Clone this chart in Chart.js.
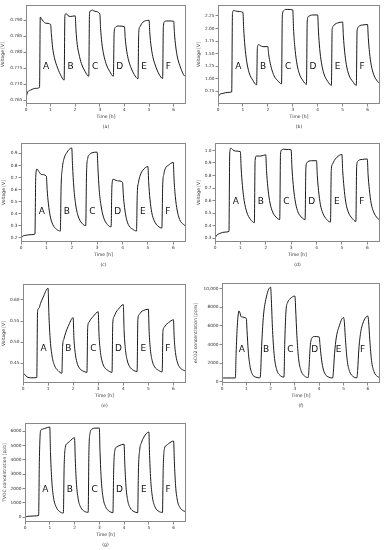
<!DOCTYPE html>
<html>
<head>
<meta charset="utf-8">
<script src="https://cdn.jsdelivr.net/npm/chart.js@4.4.0/dist/chart.umd.min.js"></script>
<style>
  body { margin: 0; background: #fff; width: 385px; height: 550px; position: relative; overflow: hidden; }
  canvas { position: absolute; }
</style>
</head>
<body>
<script>
// shared time axis [h]
const timeH = [0, 0.05, 0.2, 0.4,
  0.55, 0.58, 0.63, 0.70, 0.80, 1.00, 1.03, 1.08, 1.15, 1.25, 1.40,
  1.55, 1.58, 1.63, 1.70, 1.80, 2.00, 2.03, 2.08, 2.15, 2.25, 2.40,
  2.55, 2.58, 2.63, 2.70, 2.80, 3.00, 3.03, 3.08, 3.15, 3.25, 3.40,
  3.55, 3.58, 3.63, 3.70, 3.80, 4.00, 4.03, 4.08, 4.15, 4.25, 4.40,
  4.55, 4.58, 4.63, 4.70, 4.80, 5.00, 5.03, 5.08, 5.15, 5.25, 5.40,
  5.55, 5.58, 5.63, 5.70, 5.80, 6.00, 6.03, 6.08, 6.15, 6.25, 6.40,
  6.50];

const voltA = [0.7655, 0.7672, 0.7682, 0.7687,
  0.7690, 0.7910, 0.7905, 0.7897, 0.7891, 0.7887, 0.7858, 0.7816, 0.7784, 0.7758, 0.7730,
  0.7713, 0.7915, 0.7921, 0.7915, 0.7912, 0.7914, 0.7870, 0.7825, 0.7795, 0.7765, 0.7740,
  0.7725, 0.7922, 0.7930, 0.7932, 0.7928, 0.7920, 0.7875, 0.7830, 0.7795, 0.7765, 0.7740,
  0.7725, 0.7860, 0.7878, 0.7882, 0.7882, 0.7880, 0.7845, 0.7810, 0.7780, 0.7755, 0.7730,
  0.7717, 0.7862, 0.7880, 0.7890, 0.7897, 0.7900, 0.7860, 0.7820, 0.7787, 0.7760, 0.7732,
  0.7718, 0.7880, 0.7896, 0.7898, 0.7898, 0.7897, 0.7860, 0.7820, 0.7785, 0.7758, 0.7730,
  0.7722];

const voltB = [0.63, 0.68, 0.71, 0.73,
  0.74, 2.30, 2.36, 2.35, 2.34, 2.32, 2.00, 1.65, 1.35, 1.12, 0.97,
  0.88, 1.62, 1.68, 1.66, 1.64, 1.64, 1.50, 1.35, 1.20, 1.06, 0.96,
  0.90, 2.25, 2.35, 2.38, 2.38, 2.37, 2.00, 1.65, 1.35, 1.12, 0.97,
  0.89, 2.15, 2.24, 2.26, 2.27, 2.27, 1.95, 1.60, 1.32, 1.10, 0.95,
  0.87, 1.98, 2.05, 2.09, 2.11, 2.13, 1.85, 1.55, 1.28, 1.08, 0.95,
  0.87, 1.95, 2.03, 2.06, 2.07, 2.08, 1.82, 1.52, 1.27, 1.08, 0.95,
  0.90];

const voltC = [0.19, 0.21, 0.22, 0.225,
  0.23, 0.70, 0.77, 0.75, 0.725, 0.71, 0.60, 0.48, 0.38, 0.31, 0.27,
  0.255, 0.62, 0.78, 0.86, 0.905, 0.945, 0.80, 0.62, 0.48, 0.38, 0.32,
  0.30, 0.72, 0.86, 0.89, 0.905, 0.91, 0.78, 0.60, 0.47, 0.37, 0.31,
  0.29, 0.62, 0.685, 0.68, 0.672, 0.66, 0.56, 0.45, 0.36, 0.30, 0.27,
  0.255, 0.56, 0.66, 0.72, 0.76, 0.79, 0.66, 0.52, 0.41, 0.34, 0.295,
  0.28, 0.62, 0.73, 0.78, 0.80, 0.825, 0.68, 0.54, 0.43, 0.35, 0.31,
  0.295];

const voltD = [0.30, 0.32, 0.34, 0.35,
  0.355, 0.98, 1.018, 1.005, 0.995, 0.99, 0.86, 0.72, 0.60, 0.51, 0.45,
  0.425, 0.92, 0.955, 0.955, 0.955, 0.965, 0.84, 0.71, 0.60, 0.52, 0.47,
  0.45, 0.97, 1.005, 1.01, 1.008, 1.005, 0.87, 0.73, 0.61, 0.52, 0.47,
  0.45, 0.86, 0.905, 0.915, 0.918, 0.918, 0.80, 0.68, 0.57, 0.50, 0.45,
  0.43, 0.84, 0.89, 0.92, 0.945, 0.968, 0.84, 0.71, 0.59, 0.51, 0.46,
  0.435, 0.87, 0.915, 0.925, 0.928, 0.932, 0.81, 0.69, 0.58, 0.51, 0.46,
  0.445];

const voltE = [0.427, 0.424, 0.416, 0.415,
  0.416, 0.572, 0.580, 0.592, 0.606, 0.628, 0.57, 0.51, 0.47, 0.445, 0.432,
  0.426, 0.490, 0.507, 0.522, 0.537, 0.558, 0.51, 0.475, 0.452, 0.438, 0.431,
  0.428, 0.535, 0.547, 0.554, 0.561, 0.572, 0.52, 0.48, 0.455, 0.44, 0.432,
  0.428, 0.545, 0.560, 0.570, 0.578, 0.589, 0.53, 0.485, 0.458, 0.442, 0.433,
  0.430, 0.553, 0.565, 0.571, 0.575, 0.578, 0.525, 0.482, 0.456, 0.441, 0.433,
  0.429, 0.525, 0.535, 0.541, 0.546, 0.553, 0.51, 0.475, 0.453, 0.44, 0.433,
  0.431];

const eco2Ppm = [400, 400, 400, 400,
  400, 3000, 6000, 7600, 6950, 6800, 5500, 3300, 1700, 800, 480,
  420, 600, 3800, 6900, 8800, 10150, 8800, 5500, 2800, 1300, 650,
  500, 4000, 7500, 8500, 8900, 9200, 7800, 5000, 2500, 1200, 600,
  450, 1500, 3800, 4700, 4850, 4800, 4000, 2700, 1500, 800, 480,
  400, 1000, 3000, 4700, 5800, 6900, 6500, 4500, 2300, 1100, 550,
  420, 1200, 3500, 5200, 6300, 7050, 6500, 4500, 2300, 1100, 550,
  450];

const tvocPpb = [0, 50, 80, 100,
  120, 4000, 6050, 6150, 6200, 6300, 4500, 2600, 1400, 750, 400,
  300, 3500, 4900, 5150, 5300, 5550, 4000, 2300, 1250, 700, 420,
  350, 4500, 5900, 6150, 6220, 6230, 4500, 2600, 1400, 750, 430,
  330, 3300, 4700, 4900, 5000, 5100, 3700, 2100, 1150, 650, 400,
  330, 3300, 4700, 5200, 5600, 5950, 4300, 2500, 1350, 720, 420,
  340, 3400, 4800, 5000, 5150, 5320, 3900, 2200, 1200, 700, 450,
  400];

const xTicks = [0, 1, 2, 3, 4, 5, 6];
const ticksA = [0.765, 0.770, 0.775, 0.780, 0.785, 0.790];
const labelsA = ['0.765', '0.770', '0.775', '0.780', '0.785', '0.790'];
const ticksB = [0.75, 1.00, 1.25, 1.50, 1.75, 2.00, 2.25];
const labelsB = ['0.75', '1.00', '1.25', '1.50', '1.75', '2.00', '2.25'];
const ticksC = [0.2, 0.3, 0.4, 0.5, 0.6, 0.7, 0.8, 0.9];
const labelsC = ['0.2', '0.3', '0.4', '0.5', '0.6', '0.7', '0.8', '0.9'];
const ticksD = [0.3, 0.4, 0.5, 0.6, 0.7, 0.8, 0.9, 1.0];
const labelsD = ['0.3', '0.4', '0.5', '0.6', '0.7', '0.8', '0.9', '1.0'];
const ticksE = [0.45, 0.50, 0.55, 0.60];
const labelsE = ['0.45', '0.50', '0.55', '0.60'];
const ticksF = [0, 2000, 4000, 6000, 8000, 10000];
const labelsF = ['0', '2000', '4000', '6000', '8000', '10,000'];
const ticksG = [0, 1000, 2000, 3000, 4000, 5000, 6000];
const labelsG = ['0', '1000', '2000', '3000', '4000', '5000', '6000'];

const gasNames = ['A', 'B', 'C', 'D', 'E', 'F'];
const gasLabelTimes = [0.82, 1.81, 2.81, 3.81, 4.8, 5.78];

const FONT = "'DejaVu Sans', sans-serif";

// plot box in page px: [left, top, right, bottom], yw = room for y axis
const panels = [
  { cap: '(a)', values: voltA, yRange: [0.7638, 0.7948], ticks: ticksA, labels: labelsA, title: 'Voltage [V]', letterY: 0.7756, box: [26, 5, 186, 104], yw: 26 },
  { cap: '(b)', values: voltB, yRange: [0.499, 2.468], ticks: ticksB, labels: labelsB, title: 'Voltage [V]', letterY: 1.24, box: [218, 5, 380, 104], yw: 22 },
  { cap: '(c)', values: voltC, yRange: [0.164, 0.986], ticks: ticksC, labels: labelsC, title: 'Voltage [V]', letterY: 0.415, box: [21, 143, 186, 242], yw: 20 },
  { cap: '(d)', values: voltD, yRange: [0.271, 1.059], ticks: ticksD, labels: labelsD, title: 'Voltage [V]', letterY: 0.595, box: [215, 143, 380, 242], yw: 19 },
  { cap: '(e)', values: voltE, yRange: [0.4027, 0.638], ticks: ticksE, labels: labelsE, title: 'Voltage [V]', letterY: 0.484, box: [23, 284, 186, 383], yw: 22 },
  { cap: '(f)', values: eco2Ppm, yRange: [-140, 10600], ticks: ticksF, labels: labelsF, title: 'eCO2 concentration [ppm]', letterY: 3400, box: [222, 283, 380, 383], yw: 29 },
  { cap: '(g)', values: tvocPpb, yRange: [-326, 6581], ticks: ticksG, labels: labelsG, title: 'TVOC concentration [ppb]', letterY: 1930, box: [25, 423, 186, 522], yw: 23 }
];

const panelDeco = {
  id: 'panelDeco',
  afterDraw(chart, args, opts) {
    const { ctx, chartArea: a, scales: { x, y } } = chart;
    ctx.save();
    ctx.strokeStyle = '#888';
    ctx.lineWidth = 1;
    ctx.strokeRect(Math.round(a.left) + 0.5, Math.round(a.top) + 0.5,
      Math.round(a.right) - Math.round(a.left) - 1, Math.round(a.bottom) - Math.round(a.top) - 1);

    ctx.fillStyle = '#111';
    ctx.font = '9px ' + FONT;
    ctx.textAlign = 'center';
    ctx.textBaseline = 'middle';
    gasNames.forEach((name, i) => {
      ctx.fillText(name, x.getPixelForValue(gasLabelTimes[i]), y.getPixelForValue(opts.letterY));
    });

    ctx.fillStyle = '#333';
    ctx.font = '4.5px ' + FONT;
    ctx.fillText(opts.caption, (a.left + a.right) / 2, a.bottom + 23);
    ctx.restore();
  }
};

const PAD_TOP = 4, PAD_RIGHT = 6, X_AXIS_H = 16, PAD_BOTTOM = 14;

panels.forEach(p => {
  const [L, T, R, B] = p.box;
  const canvas = document.createElement('canvas');
  const w = (R - L) + p.yw + PAD_RIGHT;
  const h = PAD_TOP + (B - T) + X_AXIS_H + PAD_BOTTOM;
  canvas.width = w;
  canvas.height = h;
  canvas.style.width = w + 'px';
  canvas.style.height = h + 'px';
  canvas.style.left = (L - p.yw) + 'px';
  canvas.style.top = (T - PAD_TOP) + 'px';
  document.body.appendChild(canvas);

  const points = timeH.map((t, i) => ({ x: t, y: p.values[i] }));

  new Chart(canvas, {
    type: 'line',
    data: {
      datasets: [{
        data: points,
        borderColor: '#1a1a1a',
        borderWidth: 1,
        pointRadius: 0,
        fill: false,
        cubicInterpolationMode: 'monotone'
      }]
    },
    options: {
      responsive: false,
      animation: false,
      devicePixelRatio: 1,
      events: [],
      layout: { padding: { top: PAD_TOP, right: PAD_RIGHT, left: 0, bottom: PAD_BOTTOM } },
      plugins: {
        legend: { display: false },
        tooltip: { enabled: false },
        panelDeco: { letterY: p.letterY, caption: p.cap }
      },
      scales: {
        x: {
          type: 'linear',
          min: 0,
          max: 6.5,
          afterBuildTicks: s => { s.ticks = xTicks.map(v => ({ value: v })); },
          afterFit: s => { s.height = X_AXIS_H; },
          ticks: {
            autoSkip: false,
            maxRotation: 0,
            padding: 1,
            color: '#333',
            font: { size: 4.3, family: FONT },
            callback: v => String(v)
          },
          grid: { drawOnChartArea: false, drawTicks: true, tickLength: 2.5, color: '#888' },
          border: { display: false },
          title: { display: true, text: 'Time [h]', padding: 0, color: '#333', font: { size: 4.5, family: FONT } }
        },
        y: {
          min: p.yRange[0],
          max: p.yRange[1],
          afterBuildTicks: s => { s.ticks = p.ticks.map(v => ({ value: v })); },
          afterFit: s => { s.width = p.yw; },
          ticks: {
            autoSkip: false,
            padding: 1,
            color: '#333',
            font: { size: 4.3, family: FONT },
            callback: (v, i) => p.labels[i]
          },
          grid: { drawOnChartArea: false, drawTicks: true, tickLength: 2.5, color: '#888' },
          border: { display: false },
          title: { display: true, text: p.title, padding: 0, color: '#333', font: { size: 4.5, family: FONT } }
        }
      }
    },
    plugins: [panelDeco]
  });
});
</script>
</body>
</html>
